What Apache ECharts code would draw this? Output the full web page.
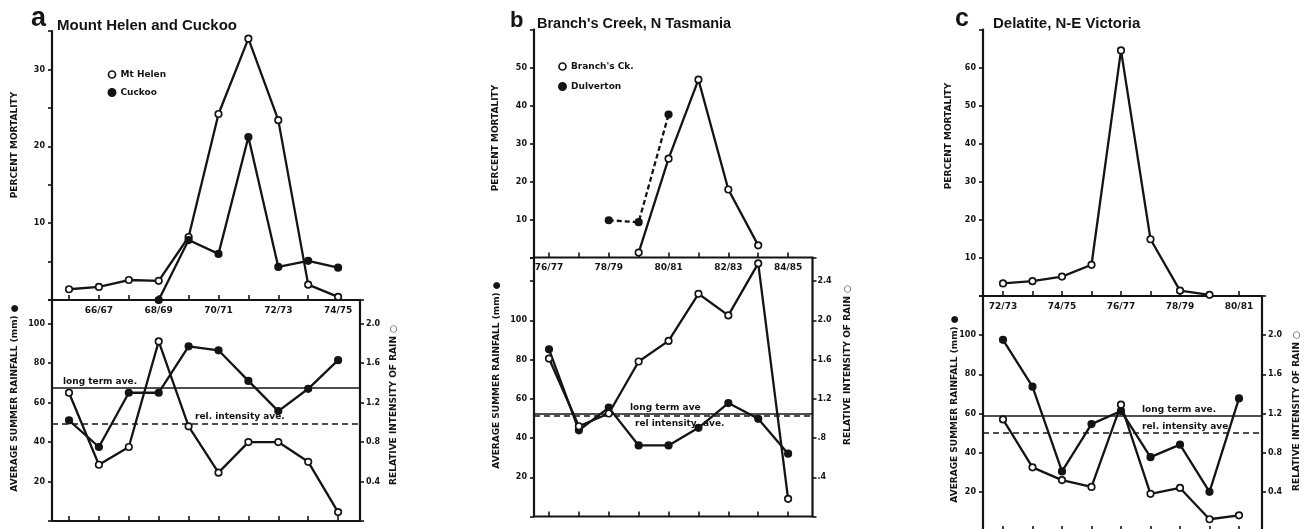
<!DOCTYPE html>
<html><head><meta charset="utf-8">
<script src="https://cdn.jsdelivr.net/npm/echarts@6/dist/echarts.min.js"></script>
<style>html,body{margin:0;padding:0;background:#fff}#c{width:1304px;height:529px}</style>
</head><body><div id="c"></div>
<script>
// ---------- DATA ----------
const catsA = ['65/66','66/67','67/68','68/69','69/70','70/71','71/72','72/73','73/74','74/75'];
const mtHelen = [1.4, 1.7, 2.6, 2.5, 8.2, 24.2, 34, 23.4, 2.0, 0.4];
const cuckoo = [null, null, null, 0, 7.8, 6.0, 21.2, 4.3, 5.1, 4.2];
const rainA = [51, 37.5, 65, 65, 88.5, 86.5, 71, 55.7, 67, 81.5];
const intensA = [1.30, 0.57, 0.75, 1.82, 0.96, 0.49, 0.80, 0.80, 0.60, 0.09];

const catsB = ['76/77','77/78','78/79','79/80','80/81','81/82','82/83','83/84','84/85'];
const branchsCk = [null, null, null, 1.3, 26, 46.8, 17.9, 3.2, null];
const dulverton = [null, null, 9.8, 9.3, 37.6, null, null, null, null];
const rainB = [85.2, 43.9, 55.5, 36.2, 36.2, 45.2, 57.8, 49.8, 32];
const intensB = [1.61, 0.92, 1.05, 1.58, 1.79, 2.27, 2.05, 2.58, 0.18];

const catsC = ['72/73','73/74','74/75','75/76','76/77','77/78','78/79','79/80','80/81'];
const delatite = [3.3, 3.9, 5.1, 8.2, 64.5, 14.9, 1.4, 0.3, null];
const rainC = [97.6, 73.7, 30.4, 54.6, 61.3, 37.7, 44.1, 20, 67.7];
const intensC = [1.14, 0.65, 0.52, 0.45, 1.29, 0.38, 0.44, 0.12, 0.16];

const longTermAve = [67.3, 52.4, 58.8];
const relIntensityAve = [0.99, 1.03, 1.0];

const mortTicksA = [10, 20, 30];
const mortTicksB = [10, 20, 30, 40, 50];
const mortTicksC = [10, 20, 30, 40, 50, 60];
const rainTicks = [20, 40, 60, 80, 100];
const intTicksA = ['0.4', '0.8', '1.2', '1.6', '2.0'];
const intTicksB = ['.4', '.8', '1.2', '1.6', '2.0', '2.4'];
const intTicksC = ['0.4', '0.8', '1.2', '1.6', '2.0'];

// ---------- STYLE / LAYOUT ----------
const INK = '#141414';
const TICKFONT = 'DejaVu Sans';
const grids = [], xAxes = [], yAxes = [], series = [], legends = [], graphics = [];

function numFmt(list) {
  return v => { for (const t of list) { if (Math.abs(v - t) < 1e-6) return String(t); } return ''; };
}
function strFmt(list) {
  return v => { for (const t of list) { if (Math.abs(v - parseFloat(t)) < 1e-6) return t; } return ''; };
}
const tickLabel = (extra) => Object.assign({color: INK, fontFamily: TICKFONT, fontWeight: 'bold', fontSize: 8}, extra);

function lineSeries(name, data, xi, yi, open, dashed) {
  return {
    name, type: 'line', xAxisIndex: xi, yAxisIndex: yi, data,
    symbol: 'circle', symbolSize: 6.5, showAllSymbol: true, connectNulls: false,
    lineStyle: {color: INK, width: 2.3, type: dashed ? [5, 3] : 'solid'},
    itemStyle: {color: open ? '#fff' : INK, borderColor: INK, borderWidth: 1.7},
    z: 5, silent: true
  };
}

function panel(p) {
  const gi = grids.length;
  const dataR = p.dataL + p.dataW;
  grids.push({left: p.dataL, width: p.dataW, top: p.top.t, height: p.top.b - p.top.t, outerBoundsMode: 'none', containLabel: false});
  grids.push({left: p.dataL, width: p.dataW, top: p.bot.t, height: p.bot.b - p.bot.t, outerBoundsMode: 'none', containLabel: false});
  grids.push({left: p.boxL, width: p.boxR - p.boxL, top: p.bot.t, height: p.bot.b - p.bot.t, show: true,
    borderColor: INK, borderWidth: 2.2, backgroundColor: 'rgba(0,0,0,0)', outerBoundsMode: 'none', containLabel: false});

  const xi = xAxes.length;
  const catTick = {show: true, inside: true, length: 5, alignWithLabel: true, interval: 0, lineStyle: {color: INK, width: 1.6}};
  xAxes.push({type: 'category', gridIndex: gi, data: p.cats, boundaryGap: true,
    axisLine: {show: false}, axisTick: catTick,
    axisLabel: {interval: p.labelInterval, margin: 6, color: INK, fontFamily: TICKFONT, fontWeight: 'bold', fontSize: 9},
    splitLine: {show: false}});
  xAxes.push({type: 'category', gridIndex: gi + 1, data: p.cats, boundaryGap: true,
    axisLine: {show: false}, axisTick: catTick, axisLabel: {show: false}, splitLine: {show: false}});
  xAxes.push({type: 'value', gridIndex: gi + 2, min: 0, max: 1, show: false});

  const yi = yAxes.length;
  const yTick = {show: true, length: 4, lineStyle: {color: INK, width: 1.6}};
  yAxes.push({type: 'value', gridIndex: gi, min: 0, max: p.top.max, interval: p.top.interval, position: 'left',
    offset: p.dataL - p.boxL, axisLine: {show: true, lineStyle: {color: INK, width: 2.2}}, axisTick: yTick,
    axisLabel: tickLabel({formatter: numFmt(p.mortTicks), margin: 7}), splitLine: {show: false}});
  yAxes.push({type: 'value', gridIndex: gi + 1, min: 0, max: p.bot.max, interval: 20, position: 'left',
    offset: p.dataL - p.boxL, axisLine: {show: false}, axisTick: yTick,
    axisLabel: tickLabel({formatter: numFmt(rainTicks), margin: 7}), splitLine: {show: false}});
  yAxes.push({type: 'value', gridIndex: gi + 1, min: 0, max: p.bot.max / 50, interval: 0.4, position: 'right',
    offset: p.boxR - dataR, axisLine: {show: false}, axisTick: yTick,
    axisLabel: tickLabel({formatter: strFmt(p.intTicks), margin: p.rMargin}), splitLine: {show: false}});
  yAxes.push({type: 'value', gridIndex: gi + 2, min: 0, max: p.bot.max, show: false});
  yAxes.push({type: 'value', gridIndex: gi + 2, min: 0, max: p.bot.max / 50, show: false});

  p.topSeries.forEach(s => series.push(lineSeries(s.name, s.data, xi, yi, s.open, s.dashed)));
  series.push(lineSeries(p.key + ' rainfall', p.rain, xi + 1, yi + 1, false, false));
  series.push(lineSeries(p.key + ' intensity', p.intens, xi + 1, yi + 2, true, false));

  const lblStyle = {color: INK, fontFamily: TICKFONT, fontWeight: 'bold', fontSize: 9};
  series.push({type: 'line', name: p.key + ' ltave', xAxisIndex: xi + 2, yAxisIndex: yi + 3, data: [], silent: true,
    markLine: {silent: true, symbol: 'none', animation: false,
      lineStyle: {color: INK, width: 1.7, type: 'solid'},
      label: Object.assign({show: true, position: p.ltLabel.pos, distance: p.ltLabel.d, formatter: p.ltLabel.text}, lblStyle),
      data: [{yAxis: p.lt}]}});
  series.push({type: 'line', name: p.key + ' riave', xAxisIndex: xi + 2, yAxisIndex: yi + 4, data: [], silent: true,
    markLine: {silent: true, symbol: 'none', animation: false,
      lineStyle: {color: INK, width: 1.7, type: [6, 4]},
      label: Object.assign({show: true, position: p.riLabel.pos, distance: p.riLabel.d, formatter: p.riLabel.text}, lblStyle),
      data: [{yAxis: p.ri}]}});
}

panel({key: 'a', cats: catsA, labelInterval: i => i % 2 === 1,
  boxL: 52, boxR: 360, dataL: 54.05, dataW: 299,
  top: {t: 31, b: 300, max: 35, interval: 5}, bot: {t: 300, b: 521, max: 112},
  mortTicks: mortTicksA, intTicks: intTicksA, rMargin: 6,
  topSeries: [{name: 'Mt Helen', data: mtHelen, open: true}, {name: 'Cuckoo', data: cuckoo, open: false}],
  rain: rainA, intens: intensA, lt: longTermAve[0], ri: relIntensityAve[0],
  ltLabel: {pos: 'insideStartTop', d: [11, 2], text: 'long term ave.'},
  riLabel: {pos: 'insideStartTop', d: [143, 2], text: 'rel. intensity ave.'}});

panel({key: 'b', cats: catsB, labelInterval: i => i % 2 === 0,
  boxL: 534, boxR: 812.5, dataL: 534.05, dataW: 269,
  top: {t: 29.5, b: 257.5, max: 60, interval: 10}, bot: {t: 257.5, b: 516.5, max: 132},
  mortTicks: mortTicksB, intTicks: intTicksB, rMargin: 5,
  topSeries: [{name: "Branch's Ck.", data: branchsCk, open: true}, {name: 'Dulverton', data: dulverton, open: false, dashed: true}],
  rain: rainB, intens: intensB, lt: longTermAve[1], ri: relIntensityAve[1],
  ltLabel: {pos: 'insideStartTop', d: [96, 2], text: 'long term ave'},
  riLabel: {pos: 'insideStartBottom', d: [101, 4], text: 'rel intensity  ave.'}});

panel({key: 'c', cats: catsC, labelInterval: i => i % 2 === 0,
  boxL: 983, boxR: 1262, dataL: 988.25, dataW: 265.5,
  top: {t: 29.5, b: 296, max: 70, interval: 10}, bot: {t: 296, b: 531, max: 120},
  mortTicks: mortTicksC, intTicks: intTicksC, rMargin: 6,
  topSeries: [{name: 'Delatite', data: delatite, open: true}],
  rain: rainC, intens: intensC, lt: longTermAve[2], ri: relIntensityAve[2],
  ltLabel: {pos: 'insideStartTop', d: [159, 2], text: 'long term ave.'},
  riLabel: {pos: 'insideStartTop', d: [159, 2], text: 'rel. intensity ave'}});

// ---------- LEGENDS ----------
const legText = {color: INK, fontFamily: TICKFONT, fontWeight: 'bold', fontSize: 9};
legends.push({orient: 'vertical', left: 102.5, top: 65, itemWidth: 7, itemHeight: 7, itemGap: 9, selectedMode: false,
  textStyle: legText,
  data: [{name: 'Mt Helen', icon: 'circle', itemStyle: {color: '#fff', borderColor: INK, borderWidth: 1.7}},
         {name: 'Cuckoo', icon: 'circle', itemStyle: {color: INK, borderColor: INK}}]});
legends.push({orient: 'vertical', left: 553, top: 57, itemWidth: 7, itemHeight: 7, itemGap: 11, selectedMode: false,
  textStyle: legText,
  data: [{name: "Branch's Ck.", icon: 'circle', itemStyle: {color: '#fff', borderColor: INK, borderWidth: 1.7}},
         {name: 'Dulverton', icon: 'circle', itemStyle: {color: INK, borderColor: INK}}]});

// ---------- TEXTS ----------
function txt(text, x, y, font, rot, align) {
  const e = {type: 'text', x, y, silent: true,
    style: {text, font, fill: INK, align: align || 'left', textAlign: align || 'left', verticalAlign: 'middle', textVerticalAlign: 'middle'}};
  if (rot) e.rotation = rot;
  return e;
}
const TF = 'bold 15px "Liberation Sans"';
const AX = 'bold 9px "DejaVu Sans"';
const R = Math.PI / 2;
graphics.push(txt('a', 31, 19, 'bold 27px "Liberation Sans"'));
graphics.push(txt('Mount Helen and Cuckoo', 57, 26, TF));
graphics.push(txt('b', 510, 20.5, 'bold 22px "Liberation Sans"'));
graphics.push(txt("Branch's Creek, N Tasmania", 537, 23.5, 'bold 14.5px "Liberation Sans"'));
graphics.push(txt('c', 955, 19.5, 'bold 25px "Liberation Sans"'));
graphics.push(txt('Delatite, N-E Victoria', 993, 23.5, TF));

graphics.push(txt('PERCENT MORTALITY', 15, 145, AX, R, 'center'));
graphics.push(txt('AVERAGE SUMMER RAINFALL (mm) \u25CF', 15, 398, AX, R, 'center'));
graphics.push(txt('RELATIVE INTENSITY OF RAIN \u25CB', 394, 405, AX, R, 'center'));
graphics.push(txt('PERCENT MORTALITY', 496, 138, AX, R, 'center'));
graphics.push(txt('AVERAGE SUMMER RAINFALL (mm) \u25CF', 497, 375, AX, R, 'center'));
graphics.push(txt('RELATIVE INTENSITY OF RAIN \u25CB', 848, 365, AX, R, 'center'));
graphics.push(txt('PERCENT MORTALITY', 949, 136, AX, R, 'center'));
graphics.push(txt('AVERAGE SUMMER RAINFALL (mm) \u25CF', 955, 409, AX, R, 'center'));
graphics.push(txt('RELATIVE INTENSITY OF RAIN \u25CB', 1297, 411, AX, R, 'center'));

const chart = echarts.init(document.getElementById('c'), null, {renderer: 'canvas'});
chart.setOption({
  backgroundColor: '#fff', animation: false,
  grid: grids, xAxis: xAxes, yAxis: yAxes, series, legend: legends,
  graphic: {elements: graphics}
});
</script></body></html>
